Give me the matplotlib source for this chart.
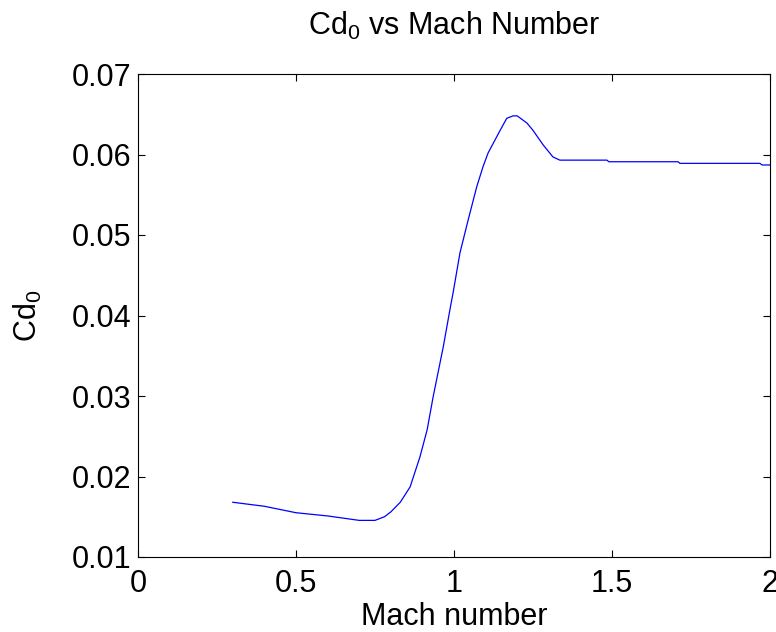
import matplotlib
matplotlib.use("Agg")
import matplotlib.pyplot as plt

mach = [0.30, 0.40, 0.50, 0.60, 0.70, 0.75, 0.78, 0.80, 0.83, 0.861, 0.892, 0.915,
        0.934, 0.966, 0.987, 0.997, 1.019, 1.045, 1.072, 1.092, 1.108, 1.146, 1.167,
        1.187, 1.200, 1.231, 1.250, 1.282, 1.313, 1.335, 1.484, 1.490, 1.709, 1.715,
        1.968, 1.975, 2.00]
cd0 = [0.0168, 0.0163, 0.0155, 0.0151, 0.01455, 0.01455, 0.0150, 0.0156, 0.0168, 0.0187,
       0.0224, 0.0258, 0.0299, 0.0361, 0.0407, 0.0428, 0.0478, 0.0519, 0.0560, 0.0585,
       0.0602, 0.0630, 0.0645, 0.0648, 0.0648, 0.0639, 0.0630, 0.0612, 0.0597, 0.0593,
       0.0593, 0.0591, 0.0591, 0.0589, 0.0589, 0.0587, 0.0587]

xticks = [0, 0.5, 1, 1.5, 2]
xticklabels = ["0", "0.5", "1", "1.5", "2"]
yticks = [0.01, 0.02, 0.03, 0.04, 0.05, 0.06, 0.07]
yticklabels = ["0.01", "0.02", "0.03", "0.04", "0.05", "0.06", "0.07"]

plt.rcParams['font.family'] = ['Liberation Sans', 'DejaVu Sans']
plt.rcParams['mathtext.fontset'] = 'custom'
plt.rcParams['mathtext.rm'] = 'Liberation Sans'
plt.rcParams['mathtext.it'] = 'Liberation Sans'

fig = plt.figure(figsize=(7.76, 6.32), dpi=100)
ax = fig.add_axes([138/776, 75/632, 632/776, 483/632])
ax.plot(mach, cd0, color=(0, 0, 1), linewidth=0.9)
ax.set_xlim(0, 2)
ax.set_ylim(0.01, 0.07)
ax.set_xticks(xticks)
ax.set_xticklabels(xticklabels)
ax.set_yticks(yticks)
ax.set_yticklabels(yticklabels)
ax.tick_params(direction='in', top=True, right=True, length=5, width=0.8,
               labelsize=22)
ax.tick_params(axis='x', pad=9)
ax.tick_params(axis='y', pad=5)
for s in ax.spines.values():
    s.set_linewidth(0.8)
ax.set_xlabel("Mach number", fontsize=22, labelpad=2)
ax.set_ylabel("Cd$_{\\mathrm{0}}$", fontsize=22, labelpad=20)
ax.set_title("Cd$_{\\mathrm{0}}$ vs Mach Number", fontsize=22, pad=28)

fig.savefig("out.png", dpi=100)
